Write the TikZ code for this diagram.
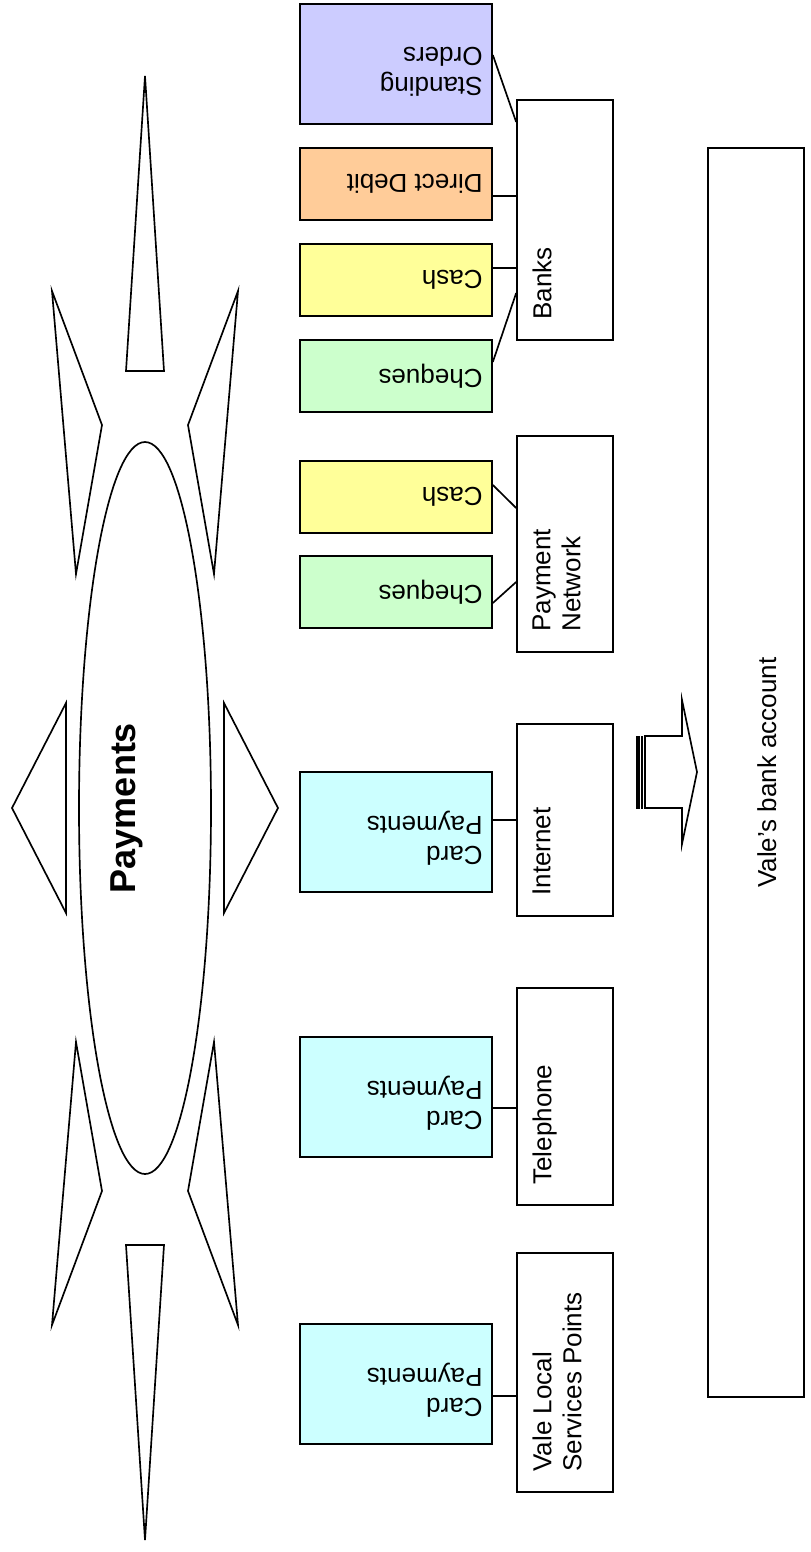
\documentclass[tikz,border=0pt]{standalone}
\usepackage{fontspec}
\setmainfont{Liberation Sans}
\usetikzlibrary{calc,shapes.geometric}

\definecolor{cardc}{HTML}{CCFFFF}
\definecolor{chqc}{HTML}{CCFFCC}
\definecolor{cashc}{HTML}{FFFF99}
\definecolor{ddc}{HTML}{FFCC99}
\definecolor{soc}{HTML}{CCCCFF}

\begin{document}
\begin{tikzpicture}[x=0.75pt,y=-0.75pt,
  every node/.style={font=\fontsize{19.5}{22.5}\selectfont},
  lw/.style={line width=1.25pt, line join=miter},
  link/.style={line width=1.25pt},
  optbox/.style={draw, line width=1.25pt, minimum width=144pt, inner sep=0},
  chanbox/.style={draw, line width=1.25pt, minimum width=72pt, inner sep=0, fill=white},
  optlabel/.style={rotate=180, anchor=west, align=left, inner sep=0},
  chanlabel/.style={rotate=90, anchor=north west, align=left, inner sep=0}]

\useasboundingbox (0,0) rectangle (810,1552);

% central hub with its spikes
\node[draw, ellipse, line width=1.25pt, minimum width=99pt, minimum height=549pt, inner sep=0] (hub) at (145,808) {};
\node[font=\bfseries\fontsize{27}{32}\selectfont, rotate=90, anchor=north, inner sep=0] (hub-t) at (110,808) {Payments};
\draw[lw] (145,76) -- (164,371) -- (126,371) -- cycle;
\draw[lw] (145,1540) -- (164,1245) -- (126,1245) -- cycle;
\draw[lw] (52,291) -- (102,425) -- (76,574) -- cycle;
\draw[lw] (238,291) -- (188,425) -- (214,574) -- cycle;
\draw[lw] (76,1042) -- (102,1191) -- (52,1325) -- cycle;
\draw[lw] (214,1042) -- (188,1191) -- (238,1325) -- cycle;
\draw[lw] (12,808) -- (66,703) -- (66,913) -- cycle;
\draw[lw] (278,808) -- (224,703) -- (224,913) -- cycle;

% payment options
\node[optbox, fill=soc, minimum height=90pt] (so) at (396,64) {};
\node[optbox, fill=ddc, minimum height=54pt] (dd) at (396,184) {};
\node[optbox, fill=cashc, minimum height=54pt] (bcash) at (396,280) {};
\node[optbox, fill=chqc, minimum height=54pt] (bchq) at (396,376) {};
\node[optbox, fill=cashc, minimum height=54pt] (pcash) at (396,497) {};
\node[optbox, fill=chqc, minimum height=54pt] (pchq) at (396,592) {};
\node[optbox, fill=cardc, minimum height=90pt] (icard) at (396,832) {};
\node[optbox, fill=cardc, minimum height=90pt] (tcard) at (396,1097) {};
\node[optbox, fill=cardc, minimum height=90pt] (vcard) at (396,1384) {};

\node[optlabel] (so-t) at ($(so.east)+(-10,8)$) {Standing\\Orders};
\node[optlabel] (dd-t) at ($(dd.east)+(-10,0)$) {Direct Debit};
\node[optlabel] (bcash-t) at ($(bcash.east)+(-10,0)$) {Cash};
\node[optlabel] (bchq-t) at ($(bchq.east)+(-10,0)$) {Cheques};
\node[optlabel] (pcash-t) at ($(pcash.east)+(-10,0)$) {Cash};
\node[optlabel] (pchq-t) at ($(pchq.east)+(-10,0)$) {Cheques};
\node[optlabel] (icard-t) at ($(icard.east)+(-10,6)$) {Card\\Payments};
\node[optlabel] (tcard-t) at ($(tcard.east)+(-10,6)$) {Card\\Payments};
\node[optlabel] (vcard-t) at ($(vcard.east)+(-10,6)$) {Card\\Payments};

% channels
\node[chanbox, minimum height=180pt] (banks) at (565,220) {};
\node[chanbox, minimum height=162pt] (pnet) at (565,544) {};
\node[chanbox, minimum height=144pt] (inet) at (565,820) {};
\node[chanbox, minimum height=162.75pt] (tel) at (565,1096.5) {};
\node[chanbox, minimum height=179.25pt] (vlsp) at (565,1372.5) {};

\node[chanlabel] (banks-t) at ($(banks.south west)+(16,-21)$) {Banks};
\node[chanlabel] (pnet-t) at ($(pnet.south west)+(16,-21)$) {Payment\\Network};
\node[chanlabel] (inet-t) at ($(inet.south west)+(16,-21)$) {Internet};
\node[chanlabel] (tel-t) at ($(tel.south west)+(16,-21)$) {Telephone};
\node[chanlabel] (vlsp-t) at ($(vlsp.south west)+(16,-21)$) {Vale Local\\Services Points};

% destination account
\node[chanbox, minimum height=936.75pt] (vba) at (756,772.5) {};
\node[rotate=90, anchor=north, inner sep=0] (vba-t) at (757,772.5) {Vale’s bank account};

% links between options and channels
\draw[link] ($(so.east)+(0,-9)$) -- ($(banks.west)+(0,-98)$);
\draw[link] ($(dd.east)+(0,12)$) -- ($(banks.west)+(0,-24)$);
\draw[link] ($(bcash.east)+(0,-12)$) -- ($(banks.west)+(0,48)$);
\draw[link] ($(bchq.east)+(0,-14)$) -- ($(banks.west)+(0,73)$);
\draw[link] ($(pcash.east)+(0,-12)$) -- ($(pnet.west)+(0,-36)$);
\draw[link] ($(pchq.east)+(0,11)$) -- ($(pnet.west)+(0,38)$);
\draw[link] (inet.west) -- (inet.west -| icard.east);
\draw[link] ($(tcard.east)+(0,11)$) -- ($(tel.west)+(0,11.5)$);
\draw[link] ($(vcard.east)+(0,12)$) -- ($(vlsp.west)+(0,23.5)$);

% striped block arrow towards the account
\filldraw[line width=0.4pt] (636,736) rectangle (639,808);
\filldraw[line width=0.4pt] (641,736) rectangle (642.5,808);
\draw[lw] (645,736) -- (682,736) -- (682,700) -- (697,772) -- (682,844) -- (682,808) -- (645,808) -- cycle;
\end{tikzpicture}
\end{document}
